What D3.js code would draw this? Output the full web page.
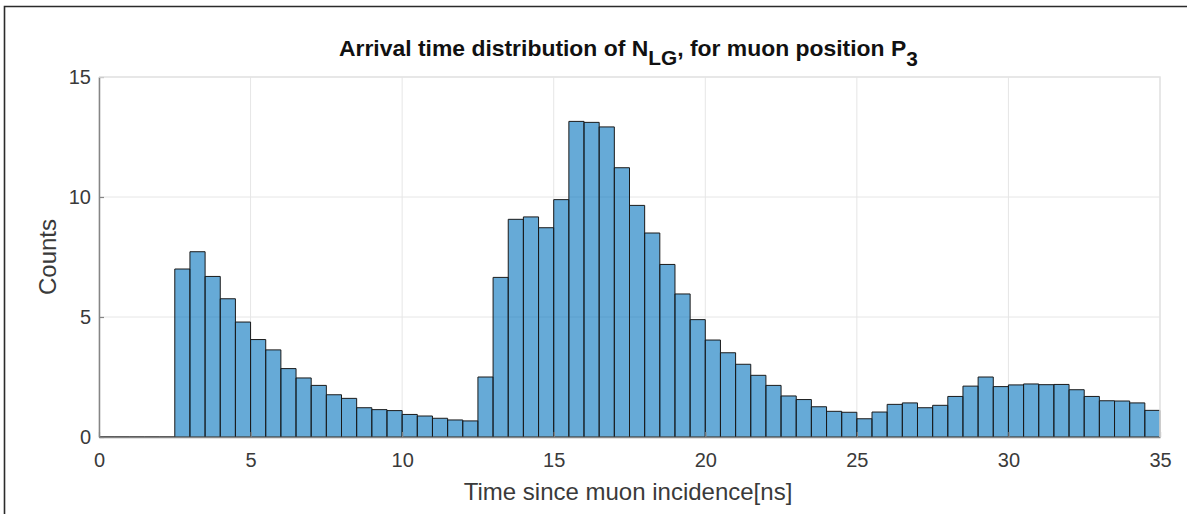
<!DOCTYPE html>
<html>
<head>
<meta charset="utf-8">
<script src="https://cdn.jsdelivr.net/npm/d3@7"></script>
<style>
  html, body { margin: 0; padding: 0; background: #fff; }
  svg { display: block; }
  text { font-family: "Liberation Sans", Arial, Helvetica, sans-serif; }
</style>
</head>
<body>
<svg id="chart" width="1187" height="514"></svg>
<script>
// Histogram of photon arrival times (bin width 0.5 ns)
const binWidth = 0.5;
const binStarts = d3.range(0, 35, binWidth);
const counts = [
  0, 0, 0, 0, 0,
  7.0, 7.72, 6.69, 5.76, 4.79, 4.06, 3.63, 2.85, 2.46, 2.15,
  1.76, 1.61, 1.22, 1.14, 1.10, 0.94, 0.875, 0.78, 0.71, 0.67,
  2.5, 6.65, 9.07, 9.17, 8.72, 9.89, 13.15, 13.11, 12.92, 11.22,
  9.65, 8.5, 7.19, 5.96, 4.89, 4.04, 3.51, 3.03, 2.57, 2.15,
  1.71, 1.56, 1.26, 1.07, 1.03,
  0.76, 1.04, 1.36, 1.42, 1.22, 1.32, 1.69, 2.12, 2.5, 2.10,
  2.17, 2.21, 2.18, 2.19, 1.97, 1.69, 1.51, 1.50, 1.42, 1.11
];
const xTicks = [0, 5, 10, 15, 20, 25, 30, 35];
const yTicks = [0, 5, 10, 15];

const svg = d3.select("#chart");
const plotL = 99, plotR = 1160, plotT = 77, plotB = 437;

const x = d3.scaleLinear().domain([0, 35]).range([plotL, plotR]);
const y = d3.scaleLinear().domain([0, 15]).range([plotB, plotT]);

// outer frame
svg.append("path")
  .attr("d", `M4.5,514 V6.5 H1187`)
  .attr("fill", "none").attr("stroke", "#2b2b2b").attr("stroke-width", 1.6);

// grid
const grid = svg.append("g").attr("stroke", "#e6e6e6").attr("stroke-width", 1);
grid.selectAll("line.gx").data(xTicks).join("line").attr("class", "gx")
  .attr("x1", d => x(d)).attr("x2", d => x(d)).attr("y1", plotT).attr("y2", plotB);
grid.selectAll("line.gy").data(yTicks).join("line").attr("class", "gy")
  .attr("x1", plotL).attr("x2", plotR).attr("y1", d => y(d)).attr("y2", d => y(d));

// bars
const bins = binStarts.map((s, i) => ({ x0: s, x1: s + binWidth, v: counts[i] }));
svg.append("g").selectAll("path").data(bins).join("path")
  .attr("d", d => {
    const x0 = x(d.x0), x1 = x(d.x1), y0 = y(0), y1 = y(d.v);
    return `M${x0},${y0} V${y1} H${x1} V${y0} Z`;
  })
  .attr("fill", "rgba(0,114,189,0.6)")
  .attr("stroke", "#1a1a1a")
  .attr("stroke-width", 1);

// axes
const axisColor = "#858585";
const xAxis = d3.axisBottom(x).tickValues(xTicks).tickSizeInner(-5).tickSizeOuter(0).tickPadding(16);
const yAxis = d3.axisLeft(y).tickValues(yTicks).tickSizeInner(-5).tickSizeOuter(0).tickPadding(8);

const gx = svg.append("g").attr("transform", `translate(0,${plotB})`).call(xAxis);
const gy = svg.append("g").attr("transform", `translate(${plotL},0)`).call(yAxis);
[gx, gy].forEach(g => {
  g.select(".domain").attr("stroke", axisColor).attr("stroke-width", 1.5);
  g.selectAll(".tick line").attr("stroke", axisColor).attr("stroke-width", 1.2);
  g.selectAll(".tick text").attr("fill", "#3a3a3a").attr("font-size", 20)
    .attr("font-family", "'Liberation Sans', Arial, sans-serif");
});

// top/right box edges
svg.append("path")
  .attr("d", `M${plotL},${plotT} H${plotR} V${plotB}`)
  .attr("fill", "none").attr("stroke", "#e3e3e3").attr("stroke-width", 1.5);

// axis labels
svg.append("text")
  .attr("x", 628).attr("y", 500)
  .attr("text-anchor", "middle").attr("font-size", 24).attr("fill", "#3a3a3a")
  .text("Time since muon incidence[ns]");
svg.append("text")
  .attr("transform", `translate(56,257) rotate(-90)`)
  .attr("text-anchor", "middle").attr("font-size", 24).attr("fill", "#3a3a3a")
  .text("Counts");

// title with subscripts
const title = svg.append("text")
  .attr("x", 0).attr("y", 56)
  .attr("font-size", 22).attr("font-weight", "bold").attr("fill", "#111");
title.append("tspan").text("Arrival time distribution of N");
title.append("tspan").attr("dy", 9).attr("font-size", 20).text("LG");
title.append("tspan").attr("dy", -9).text(", for muon position P");
title.append("tspan").attr("dy", 10).attr("font-size", 20).text("3");
// fit title to span x 339..918
const bb = title.node().getBBox();
const targetL = 339, targetW = 579;
const k = targetW / bb.width;
title.attr("transform", `translate(${targetL - bb.x * k},0) scale(${k},1)`);
</script>
</body>
</html>
